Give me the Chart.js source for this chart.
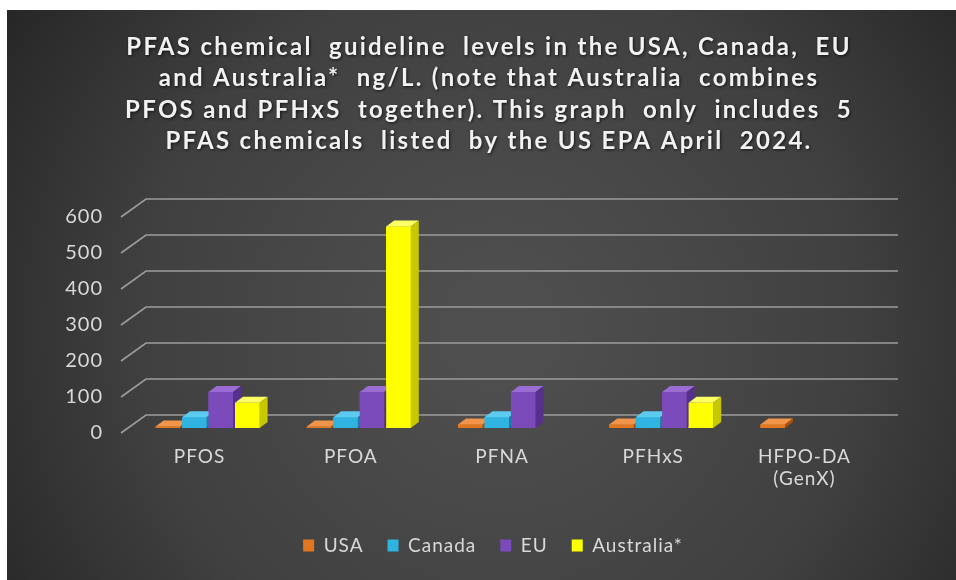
<!DOCTYPE html>
<html>
<head>
  <title>PFAS guideline levels</title>
  <script src="https://cdn.jsdelivr.net/npm/chart.js"></script>
  <style>
    body {
      margin: 0;
      background: #fff;
    }
    canvas {
      display: block;
    }
  </style>
</head>
<body>
  <canvas id="pfasChart" width="956" height="580"></canvas>

  <script>
    const chemicals = ['PFOS', 'PFOA', 'PFNA', 'PFHxS', ['HFPO-DA', '(GenX)']];
    const seriesNames = ['USA', 'Canada', 'EU', 'Australia*'];
    const usaLevels = [4, 4, 10, 10, 10];
    const canadaLevels = [30, 30, 30, 30, null];
    const euLevels = [100, 100, 100, 100, null];
    const australiaLevels = [70, 560, null, 70, null];
    const yTicks = [0, 100, 200, 300, 400, 500, 600];

    const titleLines = [
      'PFAS chemical  guideline  levels in the USA, Canada,  EU',
      'and Australia*  ng/L. (note that Australia  combines',
      'PFOS and PFHxS  together). This graph  only  includes  5',
      'PFAS chemicals  listed  by the US EPA April  2024.'
    ];

    // front, top and side colours for each series
    const palette = [
      { front: '#e2771f', top: '#f0954a', side: '#a9520f' },
      { front: '#2fb3e0', top: '#5ccbef', side: '#1b7fa3' },
      { front: '#7c4bbb', top: '#9a6cd4', side: '#56308a' },
      { front: '#ffff00', top: '#ffff66', side: '#c8c800' }
    ];

    const DEPTH_X = 8;   // bar depth
    const DEPTH_Y = -6;
    const SHIFT_X = 8;   // bars sit a little back from the front edge
    const SHIFT_Y = -5;
    const LEGEND_NUDGE = 33;

    function shade(ctx, pts, color) {
      ctx.beginPath();
      ctx.moveTo(pts[0][0], pts[0][1]);
      for (let i = 1; i < pts.length; i++) ctx.lineTo(pts[i][0], pts[i][1]);
      ctx.closePath();
      ctx.fillStyle = color;
      ctx.fill();
    }

    const backdrop = {
      id: 'backdrop',
      beforeUpdate(chart) {
        chart.ctx.letterSpacing = '1px';
      },
      afterLayout(chart) {
        // legend sits a bit right of the full-width centre
        chart.legend.left += LEGEND_NUDGE;
        chart.legend.right += LEGEND_NUDGE;
      },
      beforeDraw(chart) {
        const ctx = chart.ctx;
        ctx.letterSpacing = '1px';
        ctx.save();
        ctx.fillStyle = '#ffffff';
        ctx.fillRect(0, 0, chart.width, chart.height);
        const g = ctx.createRadialGradient(500, 330, 40, 500, 330, 620);
        g.addColorStop(0, '#4f4f4f');
        g.addColorStop(0.55, '#404040');
        g.addColorStop(1, '#232323');
        ctx.fillStyle = g;
        ctx.fillRect(7, 10, chart.width - 7, chart.height - 10);
        ctx.restore();
      },
      // spaced-out heading above the plot
      afterDraw(chart) {
        const ctx = chart.ctx;
        ctx.save();
        ctx.letterSpacing = '2.3px';
        ctx.font = 'bold 24px Lato';
        ctx.fillStyle = '#f2f2f2';
        ctx.textAlign = 'center';
        ctx.textBaseline = 'middle';
        ctx.shadowColor = 'rgba(0,0,0,0.7)';
        ctx.shadowBlur = 3;
        ctx.shadowOffsetX = 1;
        ctx.shadowOffsetY = 1;
        titleLines.forEach((line, i) => {
          ctx.fillText(line, 489, 47 + i * 31.5);
        });
        ctx.restore();
      }
    };

    // receding gridlines: short diagonal at the front, then across the back wall
    const floorGrid = {
      id: 'floorGrid',
      beforeDatasetsDraw(chart) {
        const ctx = chart.ctx;
        const y = chart.scales.y;
        const a = chart.chartArea;
        ctx.save();
        ctx.strokeStyle = '#9c9c9c';
        ctx.lineWidth = 1.6;
        yTicks.forEach(v => {
          const py = y.getPixelForValue(v);
          ctx.beginPath();
          ctx.moveTo(a.left - 3, py);
          ctx.lineTo(a.left + 22, py - 18);
          ctx.lineTo(a.right + 18, py - 18);
          ctx.stroke();
        });
        ctx.restore();
        ctx.save();
        ctx.translate(SHIFT_X, SHIFT_Y);
      },
      afterDatasetsDraw(chart) {
        const ctx = chart.ctx;
        const n = chart.data.labels.length;
        for (let i = 0; i < n; i++) {
          chart.data.datasets.forEach((ds, d) => {
            if (ds.data[i] == null) return;
            const bar = chart.getDatasetMeta(d).data[i];
            const p = bar.getProps(['x', 'y', 'base', 'width']);
            const l = p.x - p.width / 2, r = p.x + p.width / 2;
            const c = palette[d];
            bar.draw(ctx);
            shade(ctx, [[l, p.y], [r, p.y], [r + DEPTH_X, p.y + DEPTH_Y], [l + DEPTH_X, p.y + DEPTH_Y]], c.top);
            shade(ctx, [[r, p.y], [r + DEPTH_X, p.y + DEPTH_Y], [r + DEPTH_X, p.base + DEPTH_Y], [r, p.base]], c.side);
          });
        }
        ctx.restore();
      }
    };

    const levelSets = [usaLevels, canadaLevels, euLevels, australiaLevels];

    const ctx = document.getElementById('pfasChart').getContext('2d');
    const pfasChart = new Chart(ctx, {
      type: 'bar',
      data: {
        labels: chemicals,
        datasets: levelSets.map((vals, d) => ({
          label: seriesNames[d],
          data: vals,
          backgroundColor: palette[d].front,
          borderWidth: 0,
          clip: false,
          categoryPercentage: 0.7,
          barPercentage: 0.93
        }))
      },
      options: {
        responsive: false,
        animation: false,
        layout: {
          padding: { left: 40, top: 217, right: 76, bottom: 15 }
        },
        plugins: {
          title: { display: false },
          legend: {
            position: 'bottom',
            labels: {
              color: '#d9d9d9',
              font: { family: 'Lato', size: 19 },
              boxWidth: 11,
              boxHeight: 12,
              padding: 24
            }
          },
          tooltip: { enabled: false }
        },
        scales: {
          x: {
            grid: { display: false },
            border: { display: false },
            ticks: {
              color: '#d9d9d9',
              font: { family: 'Lato', size: 19 },
              padding: 4,
              maxRotation: 0
            },
            afterFit(scale) { scale.height = 79; }
          },
          y: {
            min: 0,
            max: 600,
            grid: { display: false },
            border: { display: false },
            ticks: {
              stepSize: 100,
              color: '#d9d9d9',
              font: { family: 'Lato', size: 20 },
              padding: 13
            },
            afterFit(scale) { scale.width = 84; }
          }
        }
      },
      plugins: [backdrop, floorGrid]
    });
  </script>
</body>
</html>
